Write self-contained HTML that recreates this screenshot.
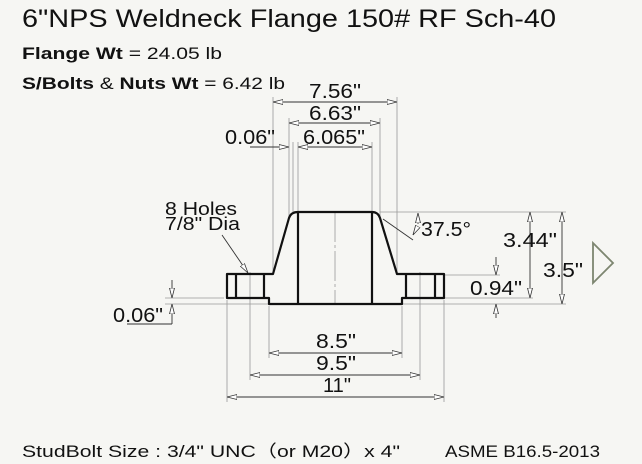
<!DOCTYPE html>
<html><head><meta charset="utf-8"><style>
html,body{margin:0;padding:0;background:#f6f6f3;}
svg{display:block;font-family:"Liberation Sans",sans-serif;}
</style></head><body>
<svg width="642" height="464" viewBox="0 0 642 464" xmlns="http://www.w3.org/2000/svg">
<defs>
<marker id="a" viewBox="0 0 10 6" refX="10" refY="3" markerWidth="10" markerHeight="6" orient="auto-start-reverse" markerUnits="userSpaceOnUse">
<path d="M0,0.5 L10,3 L0,5.5 Z" fill="#fff" stroke="#333" stroke-width="0.8"/></marker>
</defs>
<rect width="642" height="464" fill="#f6f6f3"/>
<text x="22" y="27" font-size="25" fill="#111" textLength="534" lengthAdjust="spacingAndGlyphs">6"NPS Weldneck Flange 150# RF Sch-40</text>
<text x="22" y="59" font-size="17" fill="#111" textLength="200" lengthAdjust="spacingAndGlyphs"><tspan font-weight="bold">Flange Wt</tspan> =  24.05 lb</text>
<text x="22" y="89" font-size="17" fill="#111" textLength="263" lengthAdjust="spacingAndGlyphs"><tspan font-weight="bold">S/Bolts</tspan> &amp; <tspan font-weight="bold">Nuts Wt</tspan> =  6.42 lb</text>
<text x="22" y="457" font-size="17" fill="#111" textLength="378" lengthAdjust="spacingAndGlyphs">StudBolt Size : 3/4" UNC（or M20）x 4"</text>
<text x="445" y="457" font-size="17" fill="#111" textLength="155" lengthAdjust="spacingAndGlyphs">ASME B16.5-2013</text>

<g stroke="#999" stroke-width="0.8" fill="none">
<line x1="273" y1="97" x2="273" y2="272"/>
<line x1="397" y1="97" x2="397" y2="272"/>
<line x1="289" y1="118" x2="289" y2="216"/>
<line x1="380" y1="118" x2="380" y2="216"/>
<line x1="298" y1="142" x2="298" y2="212"/>
<line x1="372" y1="142" x2="372" y2="212"/>
<line x1="293" y1="142" x2="293" y2="212"/>
<line x1="380" y1="212" x2="566" y2="212"/>
<line x1="444" y1="275" x2="500" y2="275"/>
<line x1="444" y1="298" x2="533" y2="298"/>
<line x1="402" y1="304" x2="566" y2="304"/>
<line x1="165" y1="298" x2="224" y2="298"/>
<line x1="165" y1="304" x2="268" y2="304"/>
<line x1="227" y1="300" x2="227" y2="402"/>
<line x1="444" y1="300" x2="444" y2="402"/>
<line x1="250" y1="272" x2="250" y2="380"/>
<line x1="420" y1="272" x2="420" y2="380"/>
<line x1="269" y1="306" x2="269" y2="358"/>
<line x1="402" y1="306" x2="402" y2="358"/>
<line x1="335" y1="212" x2="335" y2="304" stroke-dasharray="30 3 3 3"/>
</g>
<g stroke="#333" stroke-width="0.9" fill="none">
<line x1="273" y1="102" x2="397" y2="102" marker-start="url(#a)" marker-end="url(#a)"/>
<line x1="289" y1="123" x2="380" y2="123" marker-start="url(#a)" marker-end="url(#a)"/>
<line x1="298" y1="147" x2="372" y2="147" marker-start="url(#a)" marker-end="url(#a)"/>
<line x1="250" y1="147" x2="289" y2="147" marker-end="url(#a)"/>
<line x1="269" y1="353" x2="402" y2="353" marker-start="url(#a)" marker-end="url(#a)"/>
<line x1="250" y1="375" x2="420" y2="375" marker-start="url(#a)" marker-end="url(#a)"/>
<line x1="227" y1="397" x2="444" y2="397" marker-start="url(#a)" marker-end="url(#a)"/>
<line x1="530" y1="212" x2="530" y2="298" marker-start="url(#a)" marker-end="url(#a)"/>
<line x1="562" y1="212" x2="562" y2="304" marker-start="url(#a)" marker-end="url(#a)"/>
<line x1="496" y1="257" x2="496" y2="275" marker-end="url(#a)"/>
<line x1="496" y1="318" x2="496" y2="304" marker-end="url(#a)"/>
<line x1="172" y1="280" x2="172" y2="298" marker-end="url(#a)"/>
<line x1="172" y1="324" x2="172" y2="304" marker-end="url(#a)"/>
<line x1="127" y1="324" x2="172" y2="324"/>
<line x1="222" y1="235" x2="248" y2="273" marker-end="url(#a)"/>
<line x1="383" y1="219" x2="413" y2="240"/>
<line x1="418" y1="213" x2="418" y2="224" marker-start="url(#a)"/>
<line x1="418" y1="226" x2="413" y2="235" marker-end="url(#a)"/>
</g>
<g stroke="#111" stroke-width="2.2" fill="none" stroke-linejoin="round">
<path d="M298,212 L372,212 Q378,212 380,218 L397,274 L444,274 L444,298 L402,298 L402,304 L269,304 L269,298 L227,298 L227,274 L273,274 L289,218 Q291,212 298,212 Z"/>
<line x1="298" y1="212" x2="298" y2="304"/>
<line x1="372" y1="212" x2="372" y2="304"/>
<line x1="236" y1="274" x2="236" y2="298"/>
<line x1="264" y1="274" x2="264" y2="298"/>
<line x1="406" y1="274" x2="406" y2="298"/>
<line x1="435" y1="274" x2="435" y2="298"/>
</g>
<g font-size="20" fill="#111" lengthAdjust="spacingAndGlyphs">
<text x="309" y="98" textLength="52" lengthAdjust="spacingAndGlyphs">7.56"</text>
<text x="309" y="120" textLength="52" lengthAdjust="spacingAndGlyphs">6.63"</text>
<text x="303" y="144" textLength="62" lengthAdjust="spacingAndGlyphs">6.065"</text>
<text x="225" y="144" textLength="50" lengthAdjust="spacingAndGlyphs">0.06"</text>
<text x="165" y="215" font-size="18" textLength="72" lengthAdjust="spacingAndGlyphs">8 Holes</text>
<text x="165" y="230" font-size="18" textLength="75" lengthAdjust="spacingAndGlyphs">7/8" Dia</text>
<text x="421" y="236" textLength="50" lengthAdjust="spacingAndGlyphs">37.5°</text>
<text x="503" y="247" textLength="54" lengthAdjust="spacingAndGlyphs">3.44"</text>
<text x="543" y="277" textLength="40" lengthAdjust="spacingAndGlyphs">3.5"</text>
<text x="470" y="295" textLength="52" lengthAdjust="spacingAndGlyphs">0.94"</text>
<text x="113" y="322" textLength="50" lengthAdjust="spacingAndGlyphs">0.06"</text>
<text x="316" y="348" textLength="40" lengthAdjust="spacingAndGlyphs">8.5"</text>
<text x="316" y="370" textLength="40" lengthAdjust="spacingAndGlyphs">9.5"</text>
<text x="323" y="392" textLength="28" lengthAdjust="spacingAndGlyphs">11"</text>
</g>
<path d="M593,243 L613,263 L593,283 Z" fill="none" stroke="#7d8670" stroke-width="1.8"/>
</svg>
</body></html>
